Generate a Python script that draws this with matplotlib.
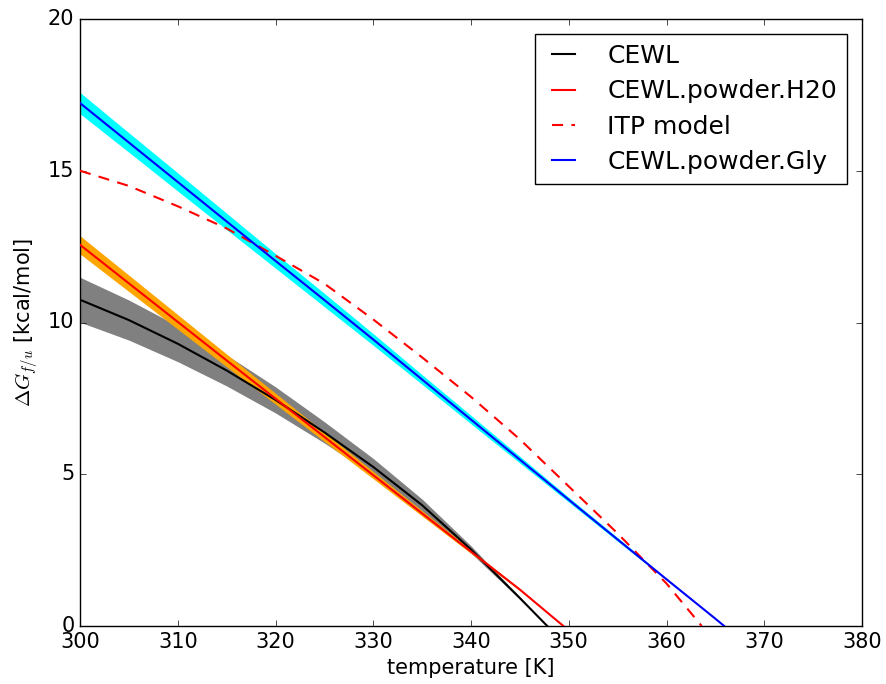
import numpy as np
import matplotlib
matplotlib.use("Agg")
import matplotlib.pyplot as plt

# values
T_cewl = [300, 305, 310, 315, 320, 325, 330, 335, 340, 345, 347.8]
G_cewl = [10.75, 10.08, 9.30, 8.42, 7.45, 6.38, 5.24, 3.98, 2.52, 0.92, 0.0]
err_cewl = [0.74, 0.66, 0.59, 0.51, 0.43, 0.35, 0.28, 0.20, 0.12, 0.04, 0.0]

T_h2o = [300, 305, 310, 315, 320, 325, 330, 335, 340, 345, 349.45]
G_h2o = [12.56, 11.29, 10.02, 8.75, 7.49, 6.23, 4.97, 3.71, 2.45, 1.20, 0.0]
err_h2o = [0.30, 0.27, 0.24, 0.21, 0.18, 0.15, 0.12, 0.09, 0.06, 0.03, 0.0]

T_itp = [300, 305, 310, 315, 320, 325, 330, 335, 340, 345, 350, 355, 360, 363.6]
G_itp = [15.0, 14.5, 13.83, 13.1, 12.2, 11.28, 10.1, 8.85, 7.55, 6.15, 4.6, 3.05, 1.4, 0.0]

T_gly = [300, 305, 310, 315, 320, 325, 330, 335, 340, 345, 350, 355, 360, 365, 365.9]
G_gly = [17.23, 15.93, 14.63, 13.33, 12.03, 10.74, 9.44, 8.12, 6.80, 5.48, 4.16, 2.85, 1.54, 0.24, 0.0]
err_gly = [0.35, 0.32, 0.30, 0.27, 0.24, 0.22, 0.19, 0.16, 0.14, 0.11, 0.08, 0.06, 0.03, 0.005, 0.0]

plt.style.use("classic")
plt.rcParams["figure.facecolor"] = "white"
plt.rcParams["savefig.facecolor"] = "white"
plt.rcParams["font.size"] = 15

fig = plt.figure(figsize=(8.86, 6.84), dpi=100)
ax = fig.add_axes([80 / 886, 1 - 626 / 684, 782 / 886, 607 / 684])

def band(T, G, e, color):
    T = np.array(T); G = np.array(G); e = np.array(e)
    ax.fill_between(T, G - e, G + e, color=color, lw=0, zorder=1)

band(T_cewl, G_cewl, err_cewl, "gray")
band(T_h2o, G_h2o, err_h2o, "orange")
band(T_gly, G_gly, err_gly, "cyan")

ax.plot(T_cewl, G_cewl, "k-", lw=1.5, label="CEWL", zorder=3)
ax.plot(T_h2o, G_h2o, "r-", lw=1.5, label="CEWL.powder.H20", zorder=3)
ax.plot(T_itp, G_itp, "r--", lw=1.5, dashes=(8, 6), label="ITP model", zorder=3)
ax.plot(T_gly, G_gly, "b-", lw=1.5, label="CEWL.powder.Gly", zorder=3)

ax.set_xlim(300, 380)
ax.set_ylim(0, 20)
ax.set_xticks(np.arange(300, 381, 10))
ax.set_yticks([0, 5, 10, 15, 20])
ax.set_xlabel("temperature [K]")
ax.set_ylabel(r"$\Delta G_{f/u}$ [kcal/mol]")
ax.legend(loc="upper right", fontsize=18, handlelength=1.5, handletextpad=1.0,
          labelspacing=0.45, borderaxespad=0.6)

fig.savefig("out.png", dpi=100)
